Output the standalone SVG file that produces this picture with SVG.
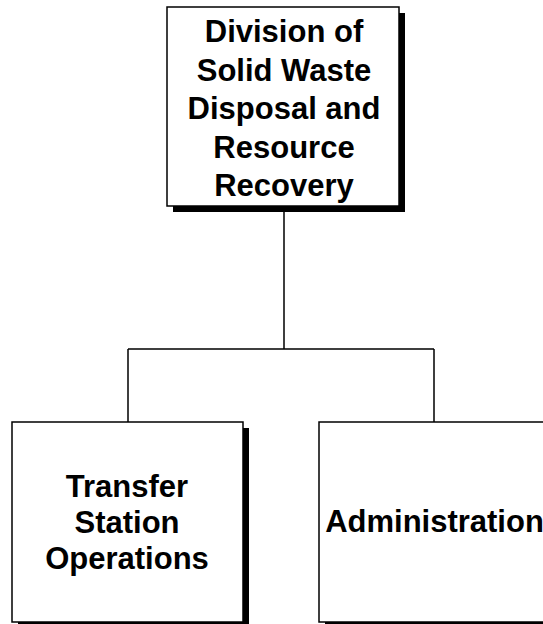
<svg xmlns="http://www.w3.org/2000/svg" width="543" height="624" viewBox="0 0 543 624">
<style>
.box{fill:#fff;stroke:#000;stroke-width:1.5}
.shadow{fill:#000}
.lbl{font-family:"Liberation Sans",Arial,sans-serif;font-weight:bold;font-size:31px;fill:#000;text-anchor:middle}
.conn{fill:none;stroke:#000;stroke-width:1.5}
</style>
<rect width="543" height="624" fill="#fff"/>
<g id="connectors">
<path class="conn" d="M284 212 V349 M128 349 H434 M128 349 V422 M434 349 V422"/>
</g>
<g id="node-division">
<rect class="shadow" x="173" y="13" width="232" height="199"/>
<rect class="box" x="167" y="7" width="232" height="199"/>
<text class="lbl" x="284" y="42">Division of</text>
<text class="lbl" x="284" y="80.5">Solid Waste</text>
<text class="lbl" x="284" y="119">Disposal and</text>
<text class="lbl" x="284" y="157.5">Resource</text>
<text class="lbl" x="284" y="196">Recovery</text>
</g>
<g id="node-transfer">
<rect class="shadow" x="18" y="428" width="231" height="200"/>
<rect class="box" x="12" y="422" width="231" height="200"/>
<text class="lbl" x="127" y="497">Transfer</text>
<text class="lbl" x="127" y="533">Station</text>
<text class="lbl" x="127" y="569">Operations</text>
</g>
<g id="node-admin">
<rect class="shadow" x="325" y="428" width="231" height="200"/>
<rect class="box" x="319" y="422" width="231" height="200"/>
<text class="lbl" x="434.5" y="532">Administration</text>
</g>
</svg>
